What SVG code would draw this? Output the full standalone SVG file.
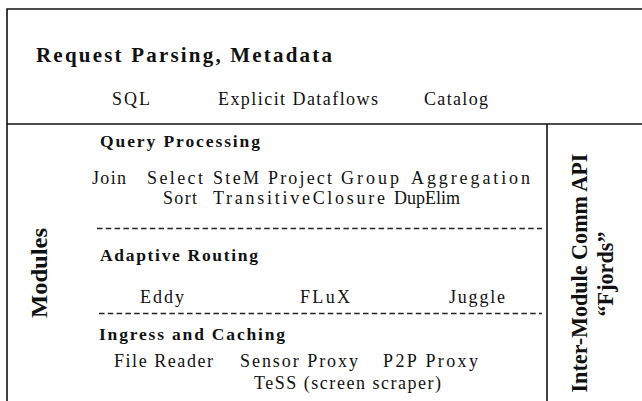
<svg xmlns="http://www.w3.org/2000/svg" width="642" height="401" viewBox="0 0 642 401">
  <style>
    .frame { stroke: #111; stroke-width: 1.6; fill: none; }
    .dash { stroke: #222; stroke-width: 1.4; stroke-dasharray: 5.5 3.3; fill: none; }
    text { font-family: "Liberation Serif", "Times New Roman", serif; fill: #111; }
    .title { font-size: 21px; font-weight: bold; }
    .head { font-size: 17.5px; font-weight: bold; }
    .item { font-size: 18px; }
    .side { font-size: 23px; font-weight: bold; }
  </style>
  <rect width="642" height="401" fill="#ffffff"/>

  <g id="connectors">
    <!-- outer frame and panel dividers -->
    <path class="frame" d="M7,401 V9 H642"/>
    <path class="frame" d="M7,124 H642"/>
    <path class="frame" d="M547,124 V401"/>
    <!-- separators between module layers -->
    <path class="dash" d="M97,228.5 H542"/>
    <path class="dash" d="M99,313.5 H542"/>
  </g>

  <g id="request-parsing">
    <text class="title" x="36" y="62" textLength="296" lengthAdjust="spacing">Request Parsing, Metadata</text>
    <text class="item" x="112" y="105" textLength="38" lengthAdjust="spacing">SQL</text>
    <text class="item" x="218" y="105" textLength="160" lengthAdjust="spacing">Explicit Dataflows</text>
    <text class="item" x="424" y="105" textLength="64" lengthAdjust="spacing">Catalog</text>
  </g>

  <g id="modules-label">
    <text class="side" transform="translate(47,273) rotate(-90)" text-anchor="middle" textLength="90" lengthAdjust="spacingAndGlyphs">Modules</text>
  </g>

  <g id="query-processing">
    <text class="head" x="100" y="147" textLength="160" lengthAdjust="spacing">Query Processing</text>
    <text class="item" x="92" y="184" textLength="34" lengthAdjust="spacing">Join</text>
    <text class="item" x="147" y="184" textLength="56" lengthAdjust="spacing">Select</text>
    <text class="item" x="213" y="184" textLength="46" lengthAdjust="spacing">SteM</text>
    <text class="item" x="268" y="184" textLength="64" lengthAdjust="spacing">Project</text>
    <text class="item" x="341" y="184" textLength="58" lengthAdjust="spacing">Group</text>
    <text class="item" x="411" y="184" textLength="119" lengthAdjust="spacing">Aggregation</text>
    <text class="item" x="163" y="204" textLength="34" lengthAdjust="spacing">Sort</text>
    <text class="item" x="213" y="204" textLength="172" lengthAdjust="spacing">TransitiveClosure</text>
    <text class="item" x="394" y="204" textLength="66" lengthAdjust="spacing">DupElim</text>
  </g>

  <g id="adaptive-routing">
    <text class="head" x="100" y="261" textLength="158" lengthAdjust="spacing">Adaptive Routing</text>
    <text class="item" x="140" y="303" textLength="44" lengthAdjust="spacing">Eddy</text>
    <text class="item" x="300" y="303" textLength="50" lengthAdjust="spacing">FLuX</text>
    <text class="item" x="449" y="303" textLength="56" lengthAdjust="spacing">Juggle</text>
  </g>

  <g id="ingress-caching">
    <text class="head" x="99" y="340" textLength="186" lengthAdjust="spacing">Ingress and Caching</text>
    <text class="item" x="114" y="367" textLength="99" lengthAdjust="spacing">File Reader</text>
    <text class="item" x="240" y="367" textLength="118" lengthAdjust="spacing">Sensor Proxy</text>
    <text class="item" x="383" y="367" textLength="95" lengthAdjust="spacing">P2P Proxy</text>
    <text class="item" x="254" y="389" textLength="187" lengthAdjust="spacing">TeSS (screen scraper)</text>
  </g>

  <g id="fjords-api">
    <text class="side" transform="translate(587,273) rotate(-90)" text-anchor="middle" textLength="239" lengthAdjust="spacingAndGlyphs">Inter-Module Comm API</text>
    <text class="side" transform="translate(613,274) rotate(-90)" text-anchor="middle" textLength="85" lengthAdjust="spacingAndGlyphs">“Fjords”</text>
  </g>
</svg>
